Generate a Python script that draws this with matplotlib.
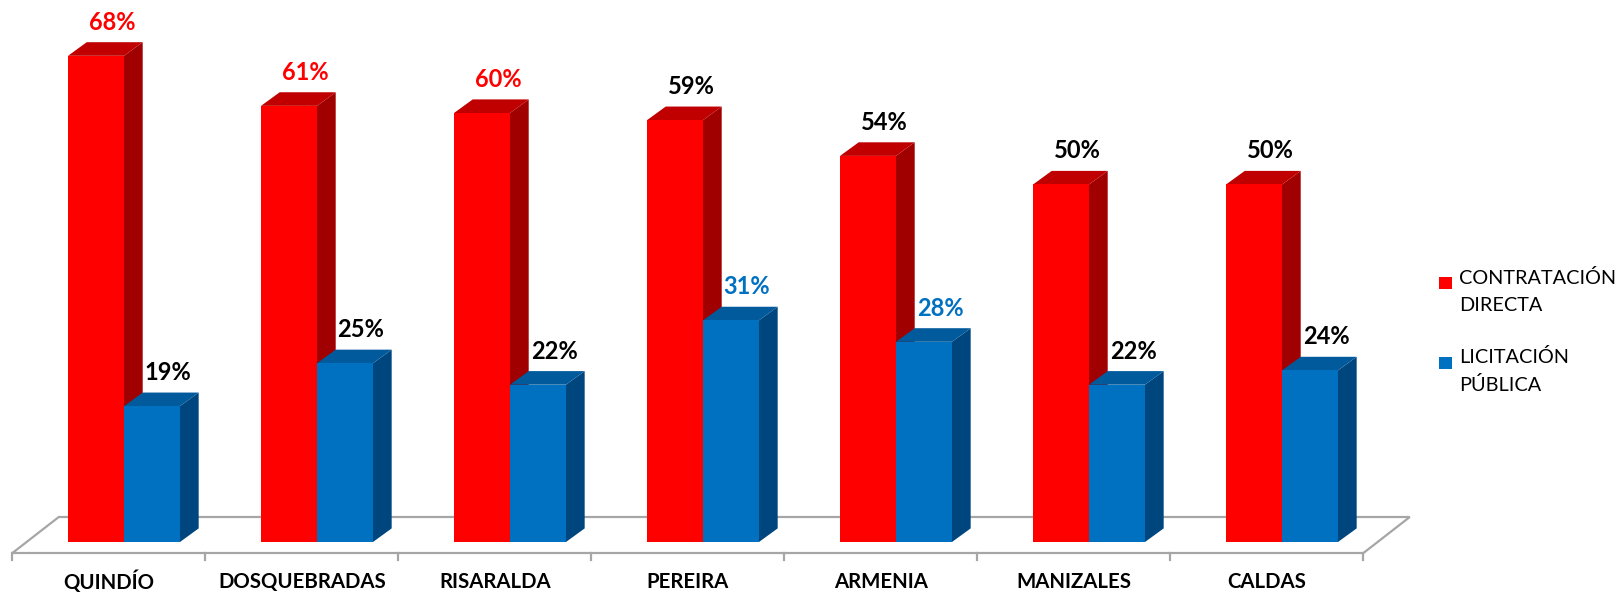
import matplotlib
matplotlib.use("Agg")
import matplotlib.pyplot as plt
from matplotlib.patches import Polygon, Rectangle

# datos del grafico
municipios = ["QUINDÍO", "DOSQUEBRADAS", "RISARALDA", "PEREIRA", "ARMENIA", "MANIZALES", "CALDAS"]
contratacion_directa = [68, 61, 60, 59, 54, 50, 50]
licitacion_publica = [19, 25, 22, 31, 28, 22, 24]
color_lbl_directa = ["#FF0000", "#FF0000", "#FF0000", "black", "black", "black", "black"]
color_lbl_licitacion = ["black", "black", "black", "#0070C0", "#0070C0", "black", "black"]
series_nombres = ["CONTRATACIÓN\nDIRECTA", "LICITACIÓN\nPÚBLICA"]

plt.rcParams['font.family'] = ['Lato', 'DejaVu Sans']

W, H = 1620, 594
fig = plt.figure(figsize=(W / 100, H / 100), dpi=100)
ax = fig.add_axes([0, 0, 1, 1])

# escala: 1 categoria = 193 px, 1% = 7.15 px
px_x = 193.0
px_y = 7.15
x0_px = 124.0   # frontera rojo/azul del primer grupo
y0_px = 52.0    # base de las barras (desde abajo)
ax.set_xlim(-x0_px / px_x, (W - x0_px) / px_x)
ax.set_ylim(-y0_px / px_y, (H - y0_px) / px_y)
ax.axis("off")

ancho = 0.29
dx = 18.7 / px_x   # profundidad 3D
dy = 13.6 / px_y

# piso en perspectiva
n = len(municipios)
fx0 = -0.578
fy_front = -11 / px_y
fy_back = 25 / px_y
fdx = 0.24
piso_x = [fx0, fx0 + n, fx0 + n + fdx, fx0 + fdx, fx0]
piso_y = [fy_front, fy_front, fy_back, fy_back, fy_front]
ax.plot(piso_x, piso_y, color="#A6A6A6", lw=1.6, zorder=1, solid_joinstyle="miter")
for i in range(n + 1):
    ax.plot([fx0 + i, fx0 + i], [fy_front, -18 / px_y], color="#A6A6A6", lw=1.6, zorder=1)


def barra3d(x, val, c_frente, c_lado, c_tapa, z):
    ax.add_patch(Polygon([(x + ancho, 0), (x + ancho + dx, dy), (x + ancho + dx, val + dy), (x + ancho, val)],
                         closed=True, fc=c_lado, ec="none", zorder=z))
    ax.add_patch(Polygon([(x, val), (x + dx, val + dy), (x + ancho + dx, val + dy), (x + ancho, val)],
                         closed=True, fc=c_tapa, ec="none", zorder=z))
    ax.bar(x, val, width=ancho, align="edge", color=c_frente, zorder=z + 0.5)


for i in range(n):
    barra3d(i - ancho, contratacion_directa[i], "#FF0000", "#A00000", "#C00000", 2 + i * 2)
    barra3d(i, licitacion_publica[i], "#0070C0", "#00467E", "#005A9C", 3 + i * 2)
    ax.text(i - ancho / 2 + 0.083, contratacion_directa[i] + dy + 1.2, f"{contratacion_directa[i]}%",
            ha="center", va="bottom", fontsize=17, fontweight="bold", color=color_lbl_directa[i], zorder=30)
    ax.text(i + ancho / 2 + 0.083, licitacion_publica[i] + dy + 1.2, f"{licitacion_publica[i]}%",
            ha="center", va="bottom", fontsize=17, fontweight="bold", color=color_lbl_licitacion[i], zorder=30)
    ax.text(fx0 + i + 0.5, -40 / px_y, municipios[i], ha="center", va="center",
            fontsize=14.7, fontweight="bold", color="black")

# leyenda manual
colores_ley = ["#FF0000", "#0070C0"]
centros = [291.5, 371.0]
for nombre, col, yc in zip(series_nombres, colores_ley, centros):
    ytop = yc - 14.5
    fig.patches.append(Rectangle((1439 / W, (H - ytop - 12) / H), 13 / W, 12 / H,
                                 transform=fig.transFigure, fc=col, ec="none"))
    fig.text(1459 / W, (H - yc) / H, nombre, ha="left", va="center", fontsize=14.3,
             linespacing=1.72, color="black")

fig.savefig("out.png", dpi=100)
